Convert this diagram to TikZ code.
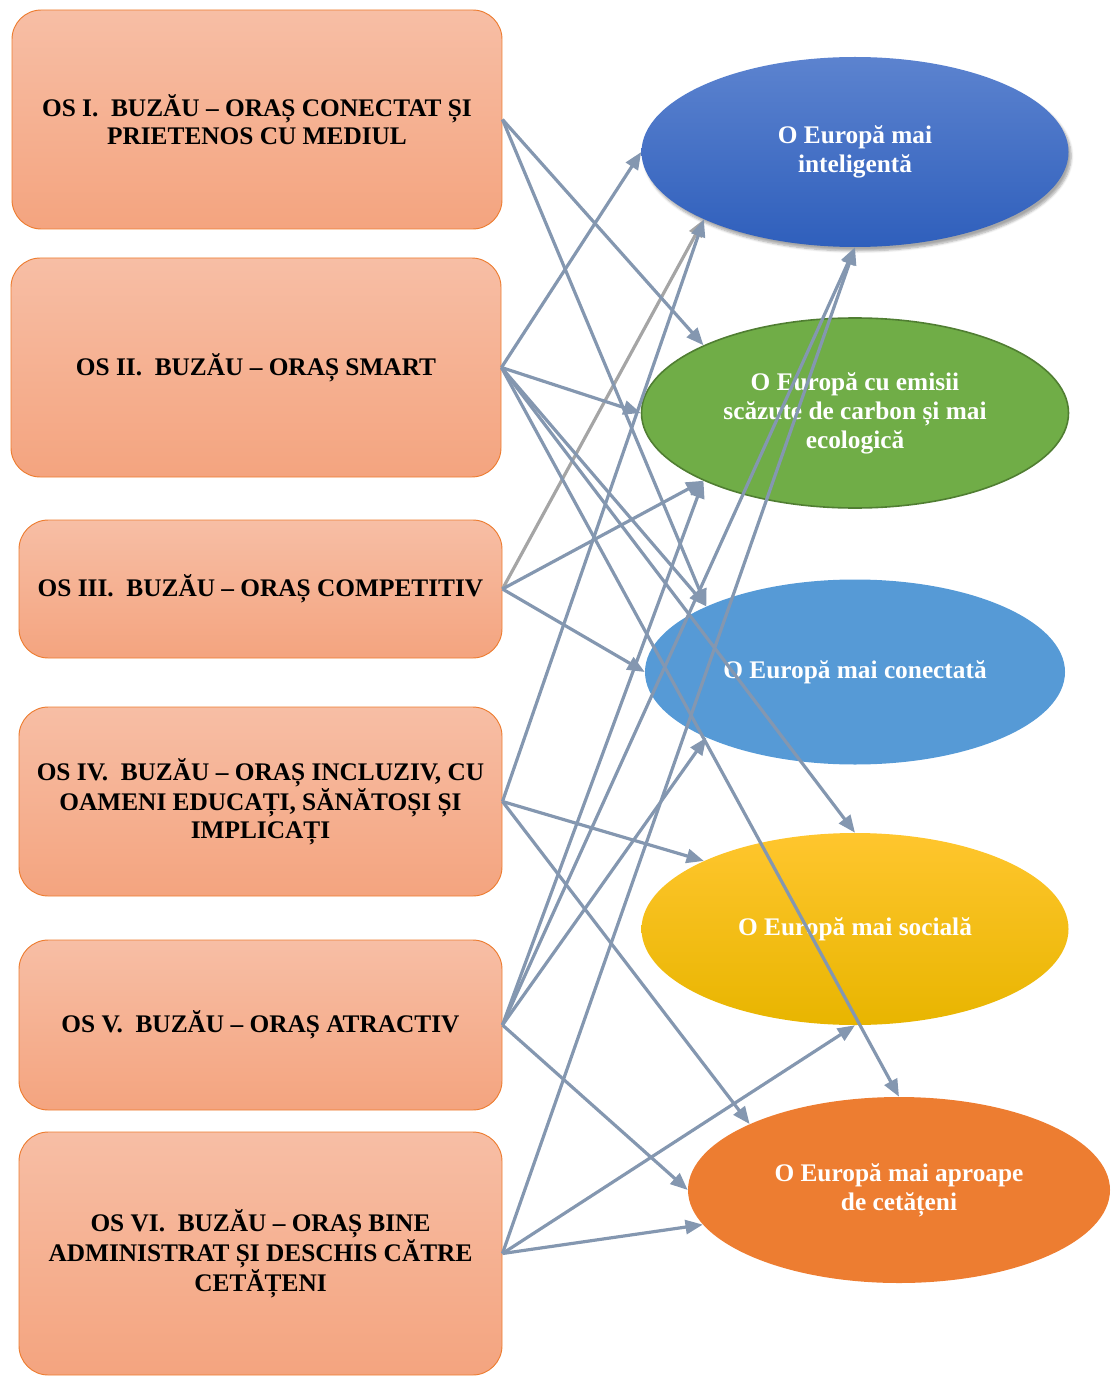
\documentclass[tikz,border=0pt]{standalone}
\usepackage{fontspec}
\setmainfont{Liberation Serif}
\usepackage{tikz}
\usetikzlibrary{shapes,arrows.meta,calc,shadows.blur}

\definecolor{peachtop}{RGB}{247,190,165}
\definecolor{peachbot}{RGB}{244,164,127}
\definecolor{peachline}{RGB}{237,125,49}
\definecolor{smartblue}{RGB}{68,114,196}
\definecolor{smartbluetop}{RGB}{92,131,207}
\definecolor{smartbluebot}{RGB}{47,95,188}
\definecolor{ecogreen}{RGB}{112,173,71}
\definecolor{ecogreenline}{RGB}{80,126,50}
\definecolor{skyblue}{RGB}{86,154,214}
\definecolor{goldtop}{RGB}{255,198,46}
\definecolor{goldmid}{RGB}{255,192,0}
\definecolor{goldbot}{RGB}{232,181,0}
\definecolor{citizenorange}{RGB}{237,125,49}
\definecolor{linkslate}{RGB}{132,151,176}
\definecolor{linkgray}{RGB}{165,165,165}

\tikzset{
  osbox/.style={rounded corners=22pt, draw=peachline, line width=0.7pt,
    top color=peachtop, bottom color=peachbot, inner sep=0pt,
    align=center, font=\fontsize{19}{21}\selectfont\bfseries},
  eubox/.style={ellipse, inner sep=0pt, align=center, text=white,
    font=\fontsize{19}{21.75}\selectfont\bfseries},
  link/.style={draw=linkslate, line width=2.4pt,
    -{Triangle[length=13pt, width=10.5pt]}},
  graylink/.style={link, draw=linkgray, -{Triangle[length=13pt, width=10.5pt, fill=linkslate]}}
}

\begin{document}
\begin{tikzpicture}[x=0.75pt, y=-0.75pt]
\useasboundingbox (0,0) rectangle (1116,1376);

% obiective strategice
\node[osbox, minimum width=367.5pt, minimum height=164.25pt] (os1) at (257,119.5)
  {OS I.\ \ BUZĂU – ORAȘ CONECTAT ȘI\\PRIETENOS CU MEDIUL};
\node[osbox, minimum width=367.5pt, minimum height=164.25pt] (os2) at (256,367.5)
  {OS II.\ \ BUZĂU – ORAȘ SMART};
\node[osbox, minimum width=362.25pt, minimum height=103.5pt] (os3) at (260.5,589)
  {OS III.\ \ BUZĂU – ORAȘ COMPETITIV};
\node[osbox, minimum width=362.25pt, minimum height=141.75pt] (os4) at (260.5,801.5)
  {OS IV.\ \ BUZĂU – ORAȘ INCLUZIV, CU\\OAMENI EDUCAȚI, SĂNĂTOȘI ȘI\\IMPLICAȚI};
\node[osbox, minimum width=362.25pt, minimum height=127.5pt] (os5) at (260.5,1025)
  {OS V.\ \ BUZĂU – ORAȘ ATRACTIV};
\node[osbox, minimum width=362.25pt, minimum height=182.25pt] (os6) at (260.5,1253.5)
  {OS VI.\ \ BUZĂU – ORAȘ BINE\\ADMINISTRAT ȘI DESCHIS CĂTRE\\CETĂȚENI};

% obiective de politica
\node[eubox, minimum width=320.25pt, minimum height=142.5pt, top color=smartbluetop, bottom color=smartbluebot,
  blur shadow={shadow xshift=2pt, shadow yshift=-3pt, shadow blur steps=6, shadow opacity=35}] (eu1) at (855,152)
  {O Europă mai\\inteligentă};
\node[eubox, minimum width=320.25pt, minimum height=142.5pt, fill=ecogreen, draw=ecogreenline, line width=1.2pt] (eu2) at (855,413)
  {O Europă cu emisii\\scăzute de carbon și mai\\ecologică};
\node[eubox, minimum width=315pt, minimum height=138.75pt, fill=skyblue] (eu3) at (855,672)
  {O Europă mai conectată};
\node[eubox, minimum width=320.25pt, minimum height=144pt, top color=goldtop, middle color=goldmid, bottom color=goldbot] (eu4) at (855,929)
  {O Europă mai socială};
\node[eubox, minimum width=316.5pt, minimum height=139.5pt, fill=citizenorange] (eu5) at (899,1190)
  {O Europă mai aproape\\de cetățeni};

% legaturi
\draw[graylink] (os3.east) -- (eu1.south west);
\foreach \s/\t in {os1/eu2.north west, os1/eu3.north west,
                   os2/eu1.west, os2/eu2.west, os2/eu3.north west, os2/eu4.north, os2/eu5.north,
                   os3/eu2.south west, os3/eu3.west,
                   os4/eu1.south west, os4/eu4.north west, os4/eu5.north west,
                   os5/eu1.south, os5/eu2.south west, os5/eu3.south west, os5/eu5.west,
                   os6/eu1.south, os6/eu4.south, os6/eu5.190}
  \draw[link] (\s.east) -- (\t);
\end{tikzpicture}
\end{document}
